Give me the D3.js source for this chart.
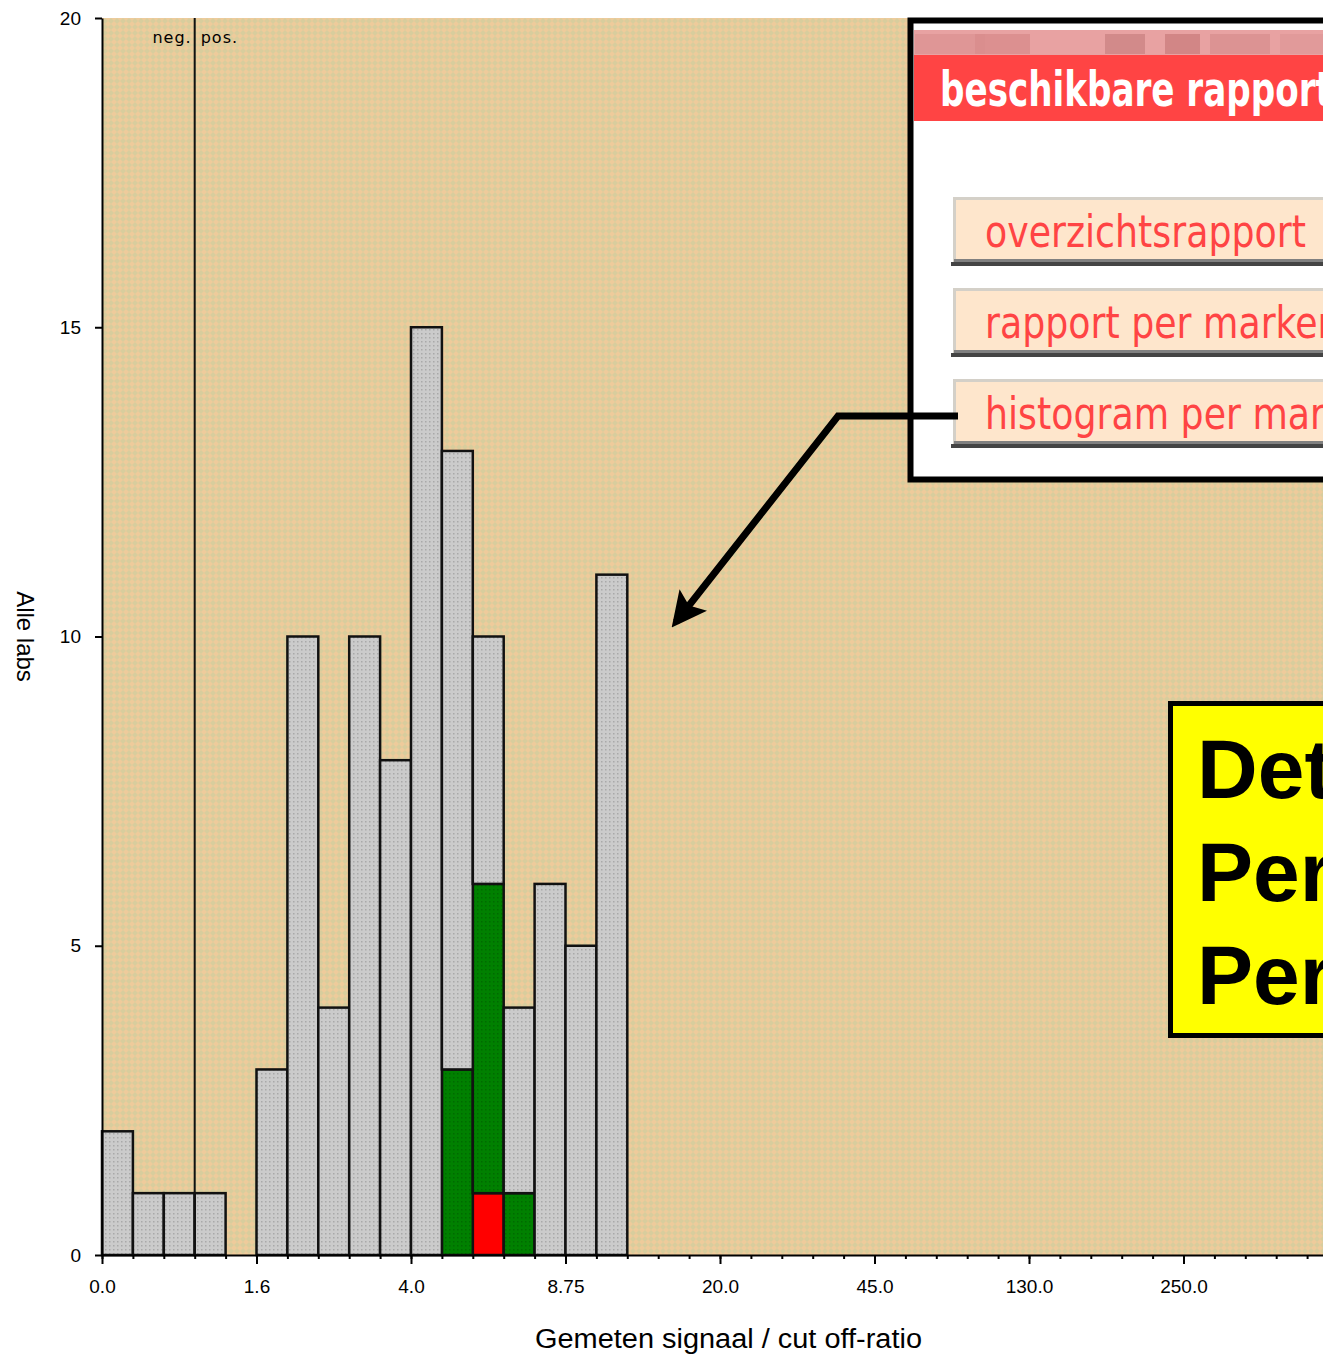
<!DOCTYPE html>
<html>
<head>
<meta charset="utf-8">
<script src="https://cdn.jsdelivr.net/npm/d3@7"></script>
<style>
	body { margin: 0; background: #fff; overflow: hidden; }
	svg { display: block; }
	.axis text { font-family: "Liberation Sans", Arial, sans-serif; font-size: 19px; fill: #000; }
	.axis path, .axis line { stroke: #000; stroke-width: 2; }
</style>
</head>
<body>
<div id="chart"></div>
<script>
// bins of the histogram (index of bin) and the counts per group
let bins = [0, 1, 2, 3, 4, 5, 6, 7, 8, 9, 10, 11, 12, 13, 14, 15, 16];
let redCounts = [0, 0, 0, 0, 0, 0, 0, 0, 0, 0, 0, 0, 1, 0, 0, 0, 0];
let greenCounts = [0, 0, 0, 0, 0, 0, 0, 0, 0, 0, 0, 3, 5, 1, 0, 0, 0];
let grayCounts = [2, 1, 1, 1, 0, 3, 10, 4, 10, 8, 15, 10, 4, 3, 6, 5, 11];

let xTickBins = [0, 5, 10, 15, 20, 25, 30, 35, 40];
let xTickLabels = ["0.0", "1.6", "4.0", "8.75", "20.0", "45.0", "130.0", "250.0", ""];
let yTicks = [0, 5, 10, 15, 20];
let cutoffBin = 3;

let menuTitle = "beschikbare rapporten";
let reportItems = ["overzichtsrapport", "rapport per marker", "histogram per marker"];
let noteLines = ["Det", "Per", "Per"];

let width = 1323;
let height = 1355;
let margin = {
	top: 18,
	right: 0,
	bottom: 100,
	left: 102
};
let binWidth = 30.9;

let svg = d3.select("#chart")
	.append("svg")
	.attr("width", width)
	.attr("height", height)
	.attr("viewBox", [0, 0, width, height]);

let defs = svg.append("defs");

// tan chequered background
let bg = defs.append("pattern")
	.attr("id", "tan")
	.attr("width", 6)
	.attr("height", 6)
	.attr("patternUnits", "userSpaceOnUse");
bg.append("rect").attr("width", 6).attr("height", 6).attr("fill", "#eecb9b");
bg.append("path").attr("d", "M3 0L6 3L3 6L0 3Z").attr("fill", "#d8cd9d");

// dotted gray bars
let grayPat = defs.append("pattern")
	.attr("id", "grayDots")
	.attr("width", 4)
	.attr("height", 4)
	.attr("patternUnits", "userSpaceOnUse");
grayPat.append("rect").attr("width", 4).attr("height", 4).attr("fill", "#cbcbcb");
grayPat.append("rect").attr("x", 1).attr("y", 1).attr("width", 1.5).attr("height", 1.5).attr("fill", "#a9a9a9");

let greenPat = defs.append("pattern")
	.attr("id", "greenDots")
	.attr("width", 4)
	.attr("height", 4)
	.attr("patternUnits", "userSpaceOnUse");
greenPat.append("rect").attr("width", 4).attr("height", 4).attr("fill", "#008000");
greenPat.append("rect").attr("x", 1).attr("y", 1).attr("width", 1.5).attr("height", 1.5).attr("fill", "#006a00");

defs.append("marker")
	.attr("id", "arrowhead")
	.attr("viewBox", "0 0 10 10")
	.attr("refX", 8)
	.attr("refY", 5)
	.attr("markerWidth", 5)
	.attr("markerHeight", 5)
	.attr("markerUnits", "strokeWidth")
	.attr("orient", "auto")
	.append("path")
	.attr("d", "M0 0L10 5L0 10L2 5Z")
	.attr("fill", "#000");

defs.append("clipPath")
	.attr("id", "page")
	.append("rect")
	.attr("width", width)
	.attr("height", height);

let x = d3.scaleLinear()
	.domain([0, 40])
	.range([margin.left, margin.left + 40 * binWidth]);

let y = d3.scaleLinear()
	.domain([0, 20])
	.range([height - margin.bottom, margin.top]);

// plot background
svg.append("rect")
	.attr("x", x(0))
	.attr("y", y(20))
	.attr("width", width - x(0))
	.attr("height", y(0) - y(20))
	.attr("fill", "url(#tan)");

// stacked bars
let table = bins.map((b, i) => ({
	bin: b,
	red: redCounts[i],
	green: greenCounts[i],
	gray: grayCounts[i]
}));
let keys = ["red", "green", "gray"];
let fills = {
	red: "#ff0000",
	green: "url(#greenDots)",
	gray: "url(#grayDots)"
};

svg.append("g")
	.selectAll("g")
	.data(d3.stack().keys(keys)(table))
	.enter()
	.append("g")
	.attr("fill", d => fills[d.key])
	.selectAll("rect")
	.data(d => d.filter(s => s[1] > s[0]))
	.enter()
	.append("rect")
	.attr("x", d => x(d.data.bin))
	.attr("y", d => y(d[1]))
	.attr("width", binWidth)
	.attr("height", d => y(d[0]) - y(d[1]))
	.attr("stroke", "#111")
	.attr("stroke-width", 2.5);

// neg / pos cut-off line
svg.append("line")
	.attr("x1", x(cutoffBin))
	.attr("x2", x(cutoffBin))
	.attr("y1", y(20))
	.attr("y2", y(0))
	.attr("stroke", "#111")
	.attr("stroke-width", 2);

svg.append("text")
	.attr("x", x(cutoffBin) - 3)
	.attr("y", y(20) + 25)
	.attr("text-anchor", "end")
	.attr("font-family", "'DejaVu Sans', sans-serif")
	.attr("font-size", 16)
	.attr("letter-spacing", 1)
	.text("neg.");

svg.append("text")
	.attr("x", x(cutoffBin) + 6)
	.attr("y", y(20) + 25)
	.attr("font-family", "'DejaVu Sans', sans-serif")
	.attr("font-size", 16)
	.attr("letter-spacing", 1)
	.text("pos.");

// axes
svg.append("g")
	.attr("class", "axis")
	.attr("transform", "translate(" + x(0) + ",0)")
	.call(d3.axisLeft(y).tickValues(yTicks).tickSize(7).tickPadding(14).tickSizeOuter(0));

svg.append("g")
	.attr("class", "axis")
	.attr("transform", "translate(0," + y(0) + ")")
	.call(d3.axisBottom(x).ticks(40).tickSize(4).tickFormat("").tickSizeOuter(0));

svg.append("g")
	.attr("class", "axis")
	.attr("transform", "translate(0," + y(0) + ")")
	.call(d3.axisBottom(x).tickValues(xTickBins).tickSize(9).tickPadding(16).tickSizeOuter(0)
		.tickFormat((d, i) => xTickLabels[i]))
	.call(g => g.select(".domain").remove());

svg.append("text")
	.attr("x", 535)
	.attr("y", height - 7)
	.attr("font-family", "'Liberation Sans', Arial, sans-serif")
	.attr("font-size", 27)
	.attr("textLength", 387)
	.attr("lengthAdjust", "spacingAndGlyphs")
	.text("Gemeten signaal / cut off-ratio");

svg.append("text")
	.attr("transform", "translate(17," + ((y(0) + y(20)) / 2) + ") rotate(90)")
	.attr("text-anchor", "middle")
	.attr("font-family", "'Liberation Sans', Arial, sans-serif")
	.attr("font-size", 24)
	.text("Alle labs");

// report menu box (runs past the right edge, as in the screenshot)
let menu = svg.append("g").attr("clip-path", "url(#page)");
menu.append("rect")
	.attr("x", 910.5)
	.attr("y", 20.5)
	.attr("width", 500)
	.attr("height", 459)
	.attr("fill", "#fff")
	.attr("stroke", "#000")
	.attr("stroke-width", 6);

// blurred strip above the header
menu.append("rect").attr("x", 914).attr("y", 30).attr("width", 420).attr("height", 25).attr("fill", "#e8a2a2");
[[915, 70, "#dc9494"], [975, 55, "#d88c8c"], [1105, 40, "#cc8484"], [1165, 35, "#cc8080"], [1210, 60, "#d89090"], [1280, 43, "#de9898"]]
	.forEach(b => {
		menu.append("rect").attr("x", b[0]).attr("y", 34).attr("width", b[1]).attr("height", 20).attr("fill", b[2]).attr("opacity", 0.8);
	});

menu.append("rect").attr("x", 914).attr("y", 55).attr("width", 420).attr("height", 66).attr("fill", "#ff4444");

let title = menu.append("text")
	.attr("x", 940)
	.attr("y", 106)
	.attr("fill", "#fff")
	.attr("font-family", "'DejaVu Sans Condensed', sans-serif")
	.attr("font-weight", "bold")
	.attr("font-size", 48)
	.text(menuTitle);
// squeeze the title so that "beschikbare rapport" spans the visible width
let titleFull = title.node().getComputedTextLength();
title.text("beschikbare rapport");
let titlePart = title.node().getComputedTextLength();
title.text(menuTitle)
	.attr("transform", "translate(940,0) scale(" + (392 / titlePart) + ",1) translate(-940,0)");

let buttonTops = [197, 288, 379];
let buttonTexts = [];
reportItems.forEach((label, i) => {
	let top = buttonTops[i];
	menu.append("rect")
		.attr("x", 954.5)
		.attr("y", top + 1.5)
		.attr("width", 400)
		.attr("height", 64)
		.attr("fill", "#fee6cc")
		.attr("stroke", "#d4d0c8")
		.attr("stroke-width", 3);
	menu.append("rect")
		.attr("x", 954)
		.attr("y", top + 62)
		.attr("width", 400)
		.attr("height", 3)
		.attr("fill", "#808080");
	menu.append("rect")
		.attr("x", 951)
		.attr("y", top + 65)
		.attr("width", 400)
		.attr("height", 4)
		.attr("fill", "#444");
	buttonTexts.push(menu.append("text")
		.attr("x", 985)
		.attr("y", top + 50)
		.attr("fill", "#ff4444")
		.attr("font-family", "'DejaVu Sans Condensed', sans-serif")
		.attr("font-weight", 300)
		.attr("font-size", 44)
		.text(label));
});
// the first label spans 985..1306 in the screenshot; use the same squeeze for all
let k = 321 / buttonTexts[0].node().getComputedTextLength();
buttonTexts.forEach(t => t.attr("transform", "translate(985,0) scale(" + k + ",1) translate(-985,0)"));

// arrow from the histogram button to the chart
svg.append("path")
	.attr("d", "M958 416H838L676 622")
	.attr("fill", "none")
	.attr("stroke", "#000")
	.attr("stroke-width", 7)
	.attr("marker-end", "url(#arrowhead)");

// yellow note box
let note = svg.append("g").attr("clip-path", "url(#page)");
note.append("rect")
	.attr("x", 1170.5)
	.attr("y", 703.5)
	.attr("width", 300)
	.attr("height", 332)
	.attr("fill", "#ffff00")
	.attr("stroke", "#000")
	.attr("stroke-width", 5);

noteLines.forEach((t, i) => {
	note.append("text")
		.attr("x", 1197)
		.attr("y", 798 + i * 103)
		.attr("font-family", "'Liberation Sans', Arial, sans-serif")
		.attr("font-weight", "bold")
		.attr("font-size", 84)
		.text(t);
});
</script>
</body>
</html>
